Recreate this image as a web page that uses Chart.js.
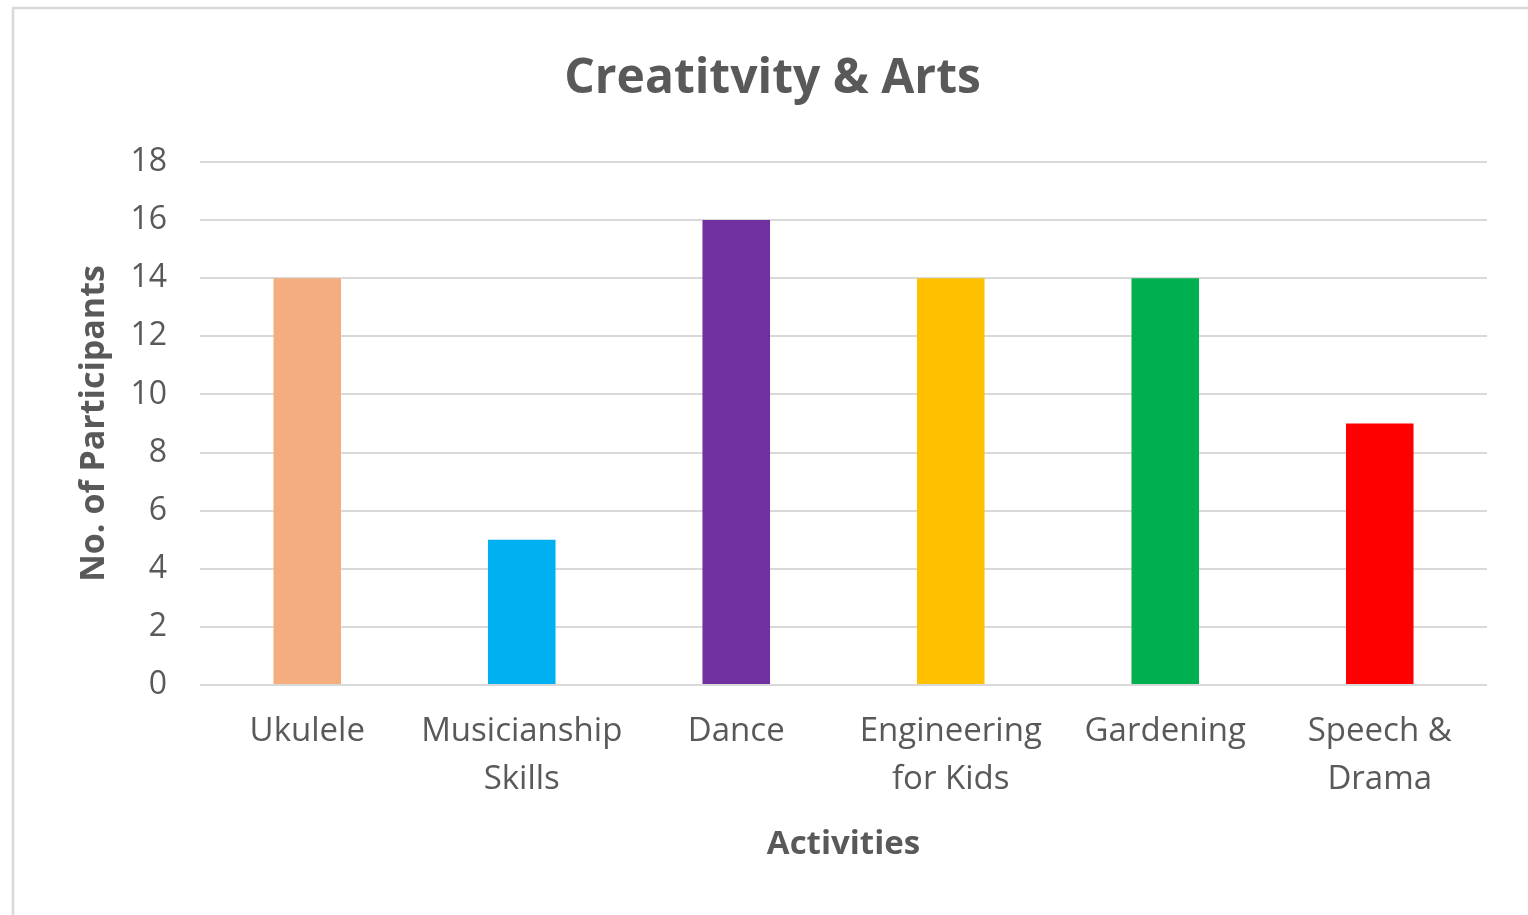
<!DOCTYPE html>
<html>
<head>
<meta charset="utf-8">
<script src="https://cdn.jsdelivr.net/npm/chart.js@4/dist/chart.umd.min.js"></script>
<style>
  html, body { margin: 0; padding: 0; background: #ffffff; }
  #wrap { position: relative; width: 1528px; height: 915px; }
</style>
</head>
<body>
<div id="wrap"><canvas id="c" width="1528" height="915"></canvas></div>
<script>
const chartTitle = "Creatitvity & Arts";
const xAxisTitle = "Activities";
const yAxisTitle = "No. of Participants";
const categories = [["Ukulele"], ["Musicianship", "Skills"], ["Dance"], ["Engineering", "for Kids"], ["Gardening"], ["Speech &", "Drama"]];
const participants = [14, 5, 16, 14, 14, 9];
const barColors = ["#F4AD7E", "#00B0F0", "#7030A0", "#FFC000", "#00B050", "#FF0000"];
const yMin = 0, yMax = 18, yStep = 2;

const FONT = "'Open Sans', Lato, sans-serif";
const TEXT = "#595959";

const borderPlugin = {
  id: 'frame',
  beforeDraw(chart) {
    const ctx = chart.ctx;
    ctx.save();
    ctx.fillStyle = '#ffffff';
    ctx.fillRect(0, 0, chart.width, chart.height);
    ctx.strokeStyle = '#d9d9d9';
    ctx.lineWidth = 2.5;
    ctx.beginPath();
    ctx.moveTo(13, chart.height);
    ctx.lineTo(13, 8);
    ctx.lineTo(chart.width, 8);
    ctx.stroke();
    ctx.restore();
  }
};

new Chart(document.getElementById('c'), {
  type: 'bar',
  data: {
    labels: categories,
    datasets: [{
      data: participants,
      backgroundColor: barColors,
      borderWidth: 0,
      barPercentage: 0.63,
      categoryPercentage: 0.5
    }]
  },
  options: {
    responsive: false,
    animation: false,
    devicePixelRatio: 1,
    layout: { padding: { left: 58, right: 41, top: 0, bottom: 0 } },
    plugins: {
      legend: { display: false },
      tooltip: { enabled: false },
      title: {
        display: true,
        text: chartTitle,
        color: TEXT,
        font: { family: FONT, size: 48, weight: 'bold' },
        padding: { top: 51, bottom: 53.4 }
      }
    },
    scales: {
      x: {
        grid: { display: false },
        border: { display: false },
        ticks: {
          color: TEXT,
          font: { family: FONT, size: 33, lineHeight: 1.45 },
          padding: 15,
          maxRotation: 0,
          autoSkip: false
        },
        title: {
          display: true,
          text: xAxisTitle,
          color: TEXT,
          font: { family: FONT, size: 33, weight: 'bold' },
          padding: { top: 0, bottom: 51 }
        },
        afterFit(scale) { scale.height = 230; }
      },
      y: {
        min: yMin,
        max: yMax,
        grid: { color: '#d9d9d9', lineWidth: 2, drawTicks: false },
        border: { display: false },
        ticks: {
          stepSize: yStep,
          color: TEXT,
          font: { family: FONT, size: 32 },
          padding: 33
        },
        title: {
          display: true,
          text: yAxisTitle,
          color: TEXT,
          font: { family: FONT, size: 34, weight: 'bold' },
          padding: { top: 16, bottom: 0 }
        },
        afterFit(scale) { scale.width = 142; }
      }
    }
  },
  plugins: [borderPlugin]
});
</script>
</body>
</html>
